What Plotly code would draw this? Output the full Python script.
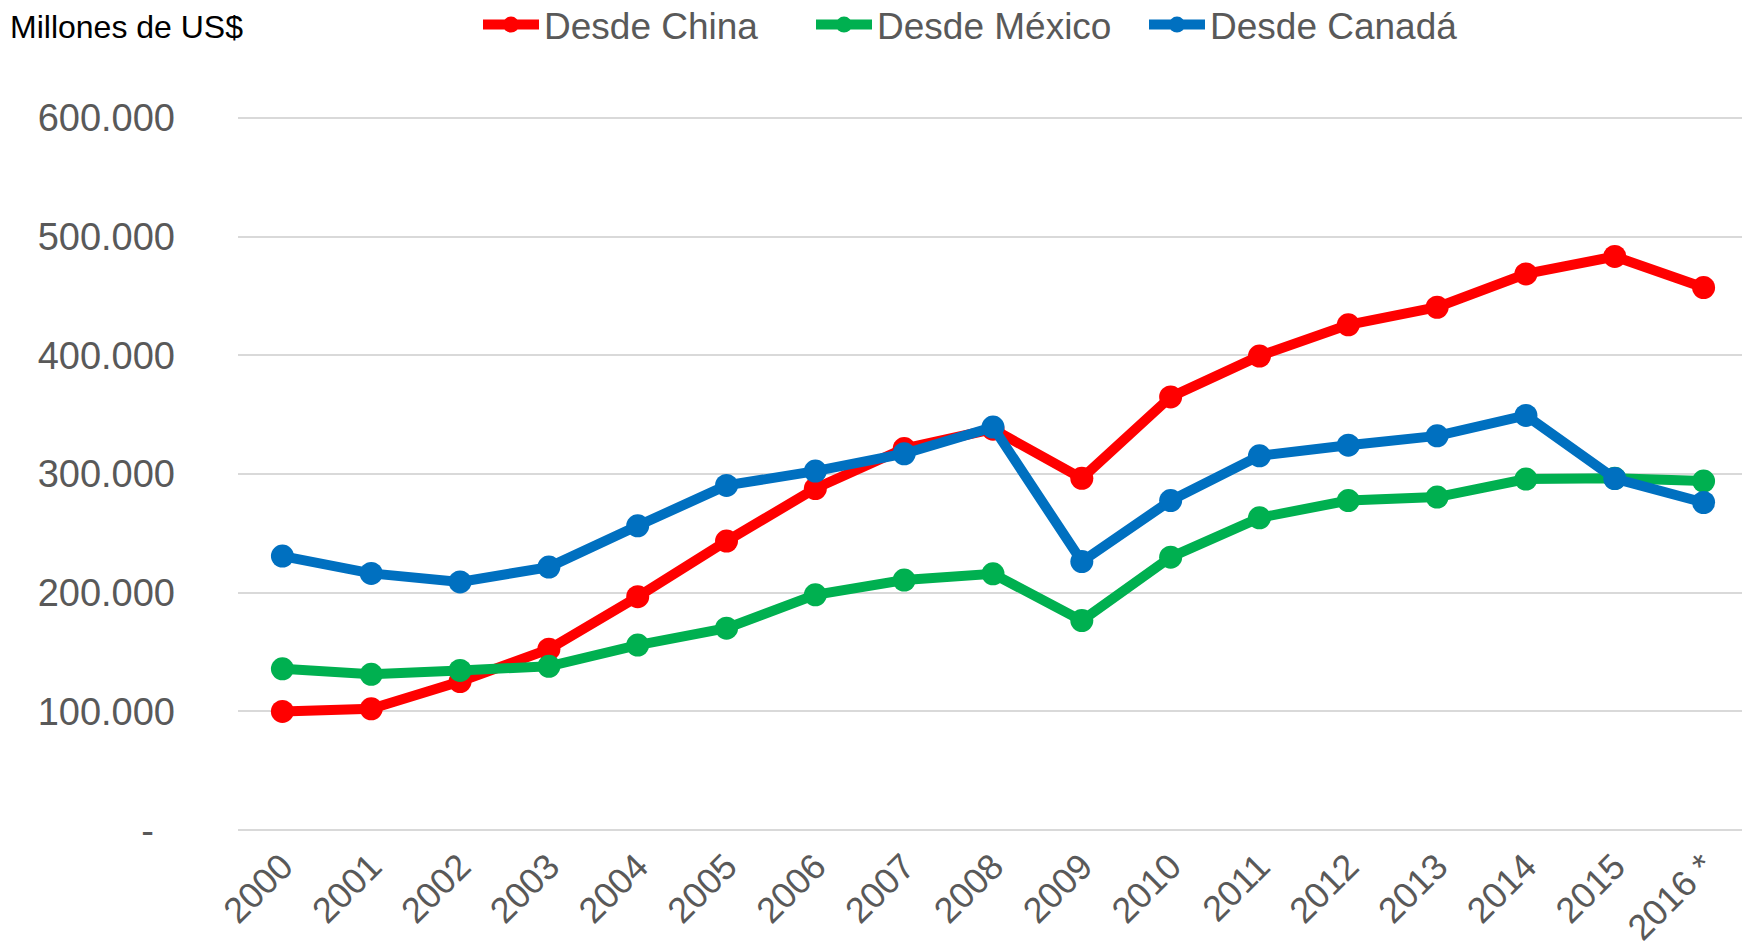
import plotly.graph_objects as go

years = ["2000", "2001", "2002", "2003", "2004", "2005", "2006", "2007", "2008",
         "2009", "2010", "2011", "2012", "2013", "2014", "2015", "2016 *"]
china = [100018, 102278, 125193, 152436, 196682, 243470, 287774, 321443, 337773,
         296374, 364953, 399371, 425619, 440430, 468475, 483202, 457000]
mexico = [135926, 131338, 134616, 138060, 155902, 170109, 198253, 210714, 215942,
          176542, 229908, 263106, 277594, 280529, 295730, 296408, 294000]
canada = [230838, 216268, 209088, 221595, 256360, 290384, 302438, 317057, 339491,
          226248, 277637, 315325, 324264, 332127, 349286, 296155, 276000]

series_names = ["Desde China", "Desde México", "Desde Canadá"]
series_colors = ["#FF0000", "#00B050", "#0070C0"]

ytick_vals = [0, 100000, 200000, 300000, 400000, 500000, 600000]
ytick_text = ["-\u00a0\u00a0", "100.000", "200.000", "300.000", "400.000", "500.000", "600.000"]

FONT = "Arial, Liberation Sans, sans-serif"

W, H = 1742, 936  # page body has an 8px margin

fig = go.Figure()
for name, vals, col in zip(series_names, [china, mexico, canada], series_colors):
    fig.add_trace(go.Scatter(
        x=years, y=vals, name=name, mode="lines+markers",
        line=dict(color=col, width=10),
        marker=dict(color=col, size=23),
    ))

fig.update_layout(
    width=W, height=H,
    paper_bgcolor="white", plot_bgcolor="white",
    margin=dict(l=230, r=2, t=108, b=112, autoexpand=False),
    font=dict(family=FONT, color="#595959", size=37),
    showlegend=True,
    legend=dict(
        orientation="h", xref="container", yref="container",
        x=470 / W, xanchor="left", y=1 - 17 / H, yanchor="middle",
        font=dict(size=37, color="#595959", family=FONT),
        itemwidth=56, tracegroupgap=0,
        entrywidth=262, entrywidthmode="pixels",
        bgcolor="rgba(0,0,0,0)",
    ),
    xaxis=dict(
        type="category", range=[-0.5, 16.5], tickangle=-45, showgrid=False,
        showline=False, zeroline=False, ticks="",
        tickfont=dict(size=36, color="#595959"),
        ticklabelstandoff=5,
    ),
    yaxis=dict(
        range=[-1500, 601500], tickvals=ytick_vals, ticktext=ytick_text,
        showgrid=True, gridcolor="#D9D9D9", gridwidth=2,
        zeroline=False, showline=False, ticks="",
        tickfont=dict(size=38, color="#595959"),
        ticklabelstandoff=62,
    ),
    annotations=[dict(
        text="Millones de US$", xref="paper", yref="paper",
        x=-0.1523, y=1.124, xanchor="left", yanchor="middle",
        showarrow=False, font=dict(size=32, color="#000000", family=FONT),
    )],
)

fig.write_html("out.html")
